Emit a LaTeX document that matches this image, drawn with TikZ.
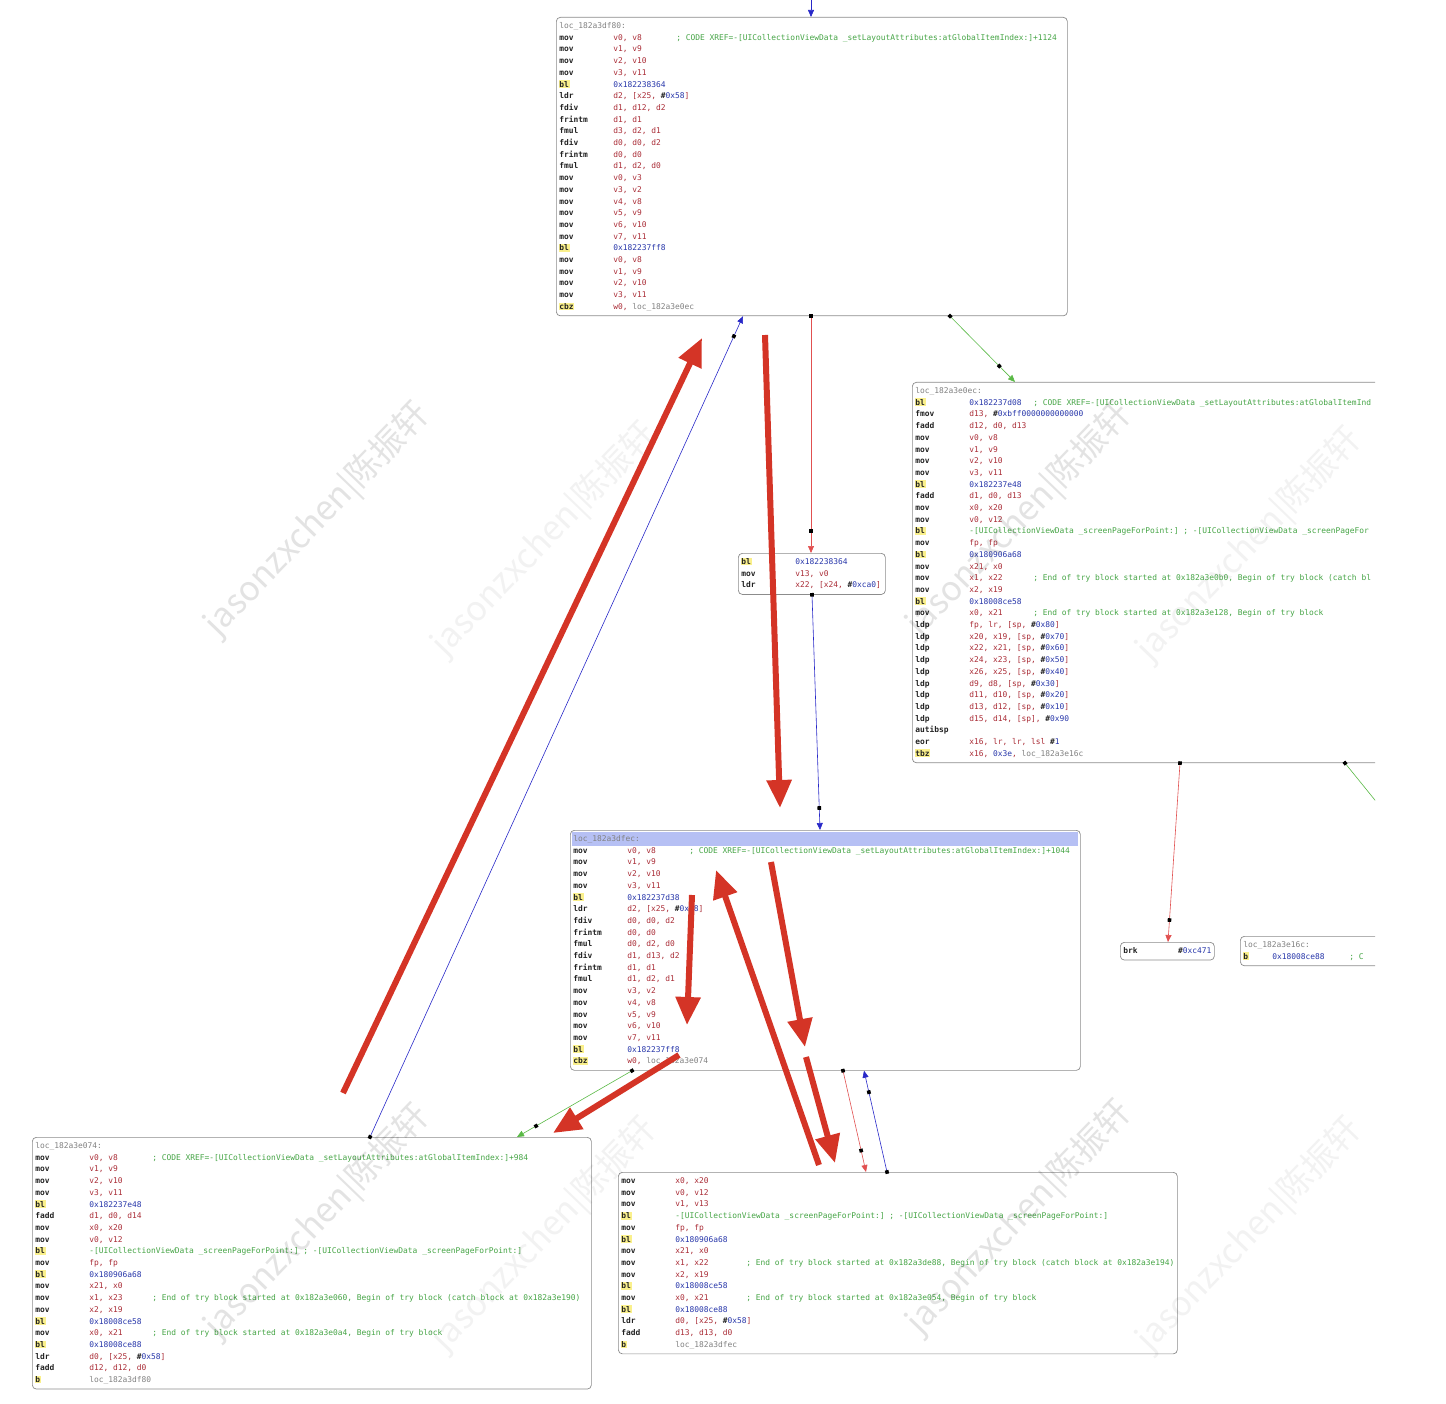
\documentclass[tikz,border=0pt]{standalone}
\usepackage{fontspec}
\newfontfamily\asmfont{DejaVu Sans Mono}
\newfontfamily\cjkfont{Noto Sans CJK SC}
\usetikzlibrary{arrows.meta,decorations.markings}

\definecolor{regred}{RGB}{170,45,55}
\definecolor{hexblue}{RGB}{40,55,170}
\definecolor{cmtgreen}{RGB}{70,165,70}
\definecolor{locgray}{RGB}{130,130,130}
\definecolor{opblack}{RGB}{35,35,35}
\definecolor{hlyellow}{RGB}{250,240,140}
\definecolor{selblue}{RGB}{182,192,244}
\definecolor{boxgray}{RGB}{140,140,140}
\definecolor{flowblue}{RGB}{40,40,200}
\definecolor{flowred}{RGB}{225,80,80}
\definecolor{flowgreen}{RGB}{90,185,70}
\definecolor{markred}{RGB}{212,52,38}

\newcommand\codefont{\asmfont\fontsize{7.9}{11.7}\selectfont}
\newcommand\monosp{\spaceskip=0.602em\relax\xspaceskip=0.602em\relax}
\newcommand\mn[1]{\strut\makebox[54pt][l]{\textcolor{opblack}{\bfseries #1}}}
\newcommand\hlbox[1]{\hspace*{-0.8pt}{\setlength\fboxsep{0.8pt}\colorbox{hlyellow}{\textcolor{opblack}{\bfseries #1}}}}
\newcommand\mh[1]{\strut\makebox[54pt][l]{\hlbox{#1}}}
\newcommand\rg[1]{\textcolor{regred}{#1}}
\newcommand\hx[1]{\textcolor{hexblue}{#1}}
\newcommand\imm[1]{\textcolor{opblack}{\bfseries\#}\hx{#1}}
\newcommand\lc[1]{\textcolor{locgray}{#1}}
\newcommand\cm[1]{\mbox{\textcolor{cmtgreen}{#1}}}
\newcommand\ops[2]{\makebox[#1][l]{#2}}
\newcommand\mv[2]{\mn{mov}\rg{#1, #2}}
\newcommand\lbl[1]{\strut\lc{#1}}
\newcommand\selbar[1]{\strut\smash{\rlap{\hspace*{-1pt}\textcolor{selblue}{\rule[-4.6pt]{506pt}{14pt}}}}\lc{#1}}

\begin{document}
\begin{tikzpicture}[x=1pt,y=-1pt,
  block/.style={draw=boxgray, line width=0.7pt, rounded corners=4pt, fill=white,
    anchor=north west, inner xsep=3pt, inner ysep=3pt, align=flush left, font=\codefont,
    execute at begin node=\monosp},
  flow/.style={line width=0.6pt, -{Triangle[length=7pt,width=6pt]},
    postaction={decorate, decoration={markings,
      mark=at position 0 with {\fill[black] (-1.8pt,-1.8pt) rectangle (1.8pt,1.8pt);},
      mark=at position -22pt with {\fill[black] (-1.8pt,-1.8pt) rectangle (1.8pt,1.8pt);}}}},
  markup/.style={line width=6pt, draw=markred, -{Triangle[length=28pt,width=24pt]}},
  wmark/.style={font=\cjkfont\fontsize{34}{34}\selectfont, text=black, opacity=0.11, rotate=46},
  wmlight/.style={wmark, opacity=0.05}]

\useasboundingbox (0,0) rectangle (1446,1404);
\begin{scope}
\clip (0,0) rectangle (1375,1404);

\node[block, text width=505pt] (df80) at (556,17) {%
\lbl{loc\_182a3df80:}\\
\mn{mov}\ops{63pt}{\rg{v0, v8}}\cm{; CODE XREF=-[UICollectionViewData \_setLayoutAttributes:atGlobalItemIndex:]+1124}\\
\mv{v1}{v9}\\
\mv{v2}{v10}\\
\mv{v3}{v11}\\
\mh{bl}\hx{0x182238364}\\
\mn{ldr}\rg{d2, [x25, }\imm{0x58}\rg{]}\\
\mn{fdiv}\rg{d1, d12, d2}\\
\mn{frintm}\rg{d1, d1}\\
\mn{fmul}\rg{d3, d2, d1}\\
\mn{fdiv}\rg{d0, d0, d2}\\
\mn{frintm}\rg{d0, d0}\\
\mn{fmul}\rg{d1, d2, d0}\\
\mv{v0}{v3}\\
\mv{v3}{v2}\\
\mv{v4}{v8}\\
\mv{v5}{v9}\\
\mv{v6}{v10}\\
\mv{v7}{v11}\\
\mh{bl}\hx{0x182237ff8}\\
\mv{v0}{v8}\\
\mv{v1}{v9}\\
\mv{v2}{v10}\\
\mv{v3}{v11}\\
\mh{cbz}\rg{w0, }\lc{loc\_182a3e0ec}};

\node[block, text width=514pt] (e0ec) at (912,382) {%
\lbl{loc\_182a3e0ec:}\\
\mh{bl}\ops{64pt}{\hx{0x182237d08}}\cm{; CODE XREF=-[UICollectionViewData \_setLayoutAttributes:atGlobalItemInd}\\
\mn{fmov}\rg{d13, }\imm{0xbff0000000000000}\\
\mn{fadd}\rg{d12, d0, d13}\\
\mv{v0}{v8}\\
\mv{v1}{v9}\\
\mv{v2}{v10}\\
\mv{v3}{v11}\\
\mh{bl}\hx{0x182237e48}\\
\mn{fadd}\rg{d1, d0, d13}\\
\mv{x0}{x20}\\
\mv{v0}{v12}\\
\mh{bl}\cm{-[UICollectionViewData \_screenPageForPoint:] ; -[UICollectionViewData \_screenPageFor}\\
\mv{fp}{fp}\\
\mh{bl}\hx{0x180906a68}\\
\mv{x21}{x0}\\
\mn{mov}\ops{64pt}{\rg{x1, x22}}\cm{; End of try block started at 0x182a3e0b0, Begin of try block (catch bl}\\
\mv{x2}{x19}\\
\mh{bl}\hx{0x18008ce58}\\
\mn{mov}\ops{64pt}{\rg{x0, x21}}\cm{; End of try block started at 0x182a3e128, Begin of try block}\\
\mn{ldp}\rg{fp, lr, [sp, }\imm{0x80}\rg{]}\\
\mn{ldp}\rg{x20, x19, [sp, }\imm{0x70}\rg{]}\\
\mn{ldp}\rg{x22, x21, [sp, }\imm{0x60}\rg{]}\\
\mn{ldp}\rg{x24, x23, [sp, }\imm{0x50}\rg{]}\\
\mn{ldp}\rg{x26, x25, [sp, }\imm{0x40}\rg{]}\\
\mn{ldp}\rg{d9, d8, [sp, }\imm{0x30}\rg{]}\\
\mn{ldp}\rg{d11, d10, [sp, }\imm{0x20}\rg{]}\\
\mn{ldp}\rg{d13, d12, [sp, }\imm{0x10}\rg{]}\\
\mn{ldp}\rg{d15, d14, [sp], }\imm{0x90}\\
\mn{autibsp}\\
\mn{eor}\rg{x16, lr, lr, lsl }\imm{1}\\
\mh{tbz}\rg{x16, }\hx{0x3e}\rg{, }\lc{loc\_182a3e16c}};

\node[block, text width=141pt] (b364) at (738,553) {%
\mh{bl}\hx{0x182238364}\\
\mv{v13}{v0}\\
\mn{ldr}\rg{x22, [x24, }\imm{0xca0}\rg{]}};

\node[block, text width=504pt] (dfec) at (570,830) {%
\selbar{loc\_182a3dfec:}\\
\mn{mov}\ops{62pt}{\rg{v0, v8}}\cm{; CODE XREF=-[UICollectionViewData \_setLayoutAttributes:atGlobalItemIndex:]+1044}\\
\mv{v1}{v9}\\
\mv{v2}{v10}\\
\mv{v3}{v11}\\
\mh{bl}\hx{0x182237d38}\\
\mn{ldr}\rg{d2, [x25, }\imm{0x58}\rg{]}\\
\mn{fdiv}\rg{d0, d0, d2}\\
\mn{frintm}\rg{d0, d0}\\
\mn{fmul}\rg{d0, d2, d0}\\
\mn{fdiv}\rg{d1, d13, d2}\\
\mn{frintm}\rg{d1, d1}\\
\mn{fmul}\rg{d1, d2, d1}\\
\mv{v3}{v2}\\
\mv{v4}{v8}\\
\mv{v5}{v9}\\
\mv{v6}{v10}\\
\mv{v7}{v11}\\
\mh{bl}\hx{0x182237ff8}\\
\mh{cbz}\rg{w0, }\lc{loc\_182a3e074}};

\node[block, text width=88pt] (brk) at (1120,942) {%
\strut\textcolor{opblack}{\bfseries brk}\hfill\imm{0xc471}};

\node[block, text width=294pt] (e16c) at (1240,936) {%
\lbl{loc\_182a3e16c:}\\
\strut\makebox[29pt][l]{\hlbox{b}}\ops{77pt}{\hx{0x18008ce88}}\cm{; C}};

\node[block, text width=553pt] (e074) at (32,1137) {%
\lbl{loc\_182a3e074:}\\
\mn{mov}\ops{63pt}{\rg{v0, v8}}\cm{; CODE XREF=-[UICollectionViewData \_setLayoutAttributes:atGlobalItemIndex:]+984}\\
\mv{v1}{v9}\\
\mv{v2}{v10}\\
\mv{v3}{v11}\\
\mh{bl}\hx{0x182237e48}\\
\mn{fadd}\rg{d1, d0, d14}\\
\mv{x0}{x20}\\
\mv{v0}{v12}\\
\mh{bl}\cm{-[UICollectionViewData \_screenPageForPoint:] ; -[UICollectionViewData \_screenPageForPoint:]}\\
\mv{fp}{fp}\\
\mh{bl}\hx{0x180906a68}\\
\mv{x21}{x0}\\
\mn{mov}\ops{63pt}{\rg{x1, x23}}\cm{; End of try block started at 0x182a3e060, Begin of try block (catch block at 0x182a3e190)}\\
\mv{x2}{x19}\\
\mh{bl}\hx{0x18008ce58}\\
\mn{mov}\ops{63pt}{\rg{x0, x21}}\cm{; End of try block started at 0x182a3e0a4, Begin of try block}\\
\mh{bl}\hx{0x18008ce88}\\
\mn{ldr}\rg{d0, [x25, }\imm{0x58}\rg{]}\\
\mn{fadd}\rg{d12, d12, d0}\\
\mh{b}\lc{loc\_182a3df80}};

\node[block, text width=553pt] (tail) at (618,1172) {%
\mv{x0}{x20}\\
\mv{v0}{v12}\\
\mv{v1}{v13}\\
\mh{bl}\cm{-[UICollectionViewData \_screenPageForPoint:] ; -[UICollectionViewData \_screenPageForPoint:]}\\
\mv{fp}{fp}\\
\mh{bl}\hx{0x180906a68}\\
\mv{x21}{x0}\\
\mn{mov}\ops{71pt}{\rg{x1, x22}}\cm{; End of try block started at 0x182a3de88, Begin of try block (catch block at 0x182a3e194)}\\
\mv{x2}{x19}\\
\mh{bl}\hx{0x18008ce58}\\
\mn{mov}\ops{71pt}{\rg{x0, x21}}\cm{; End of try block started at 0x182a3e054, Begin of try block}\\
\mh{bl}\hx{0x18008ce88}\\
\mn{ldr}\rg{d0, [x25, }\imm{0x58}\rg{]}\\
\mn{fadd}\rg{d13, d13, d0}\\
\mh{b}\lc{loc\_182a3dfec}};

% flow edges
\coordinate (entry) at (811,0);
\draw[flowblue, line width=0.6pt, -{Triangle[length=7pt,width=6pt]}] (entry) -- ([xshift=255pt]df80.north west);
\draw[flow, flowred] ([xshift=255pt]df80.south west) -- ([xshift=73pt]b364.north west);
\draw[flow, flowgreen] ([xshift=394pt]df80.south west) -- ([xshift=103pt]e0ec.north west);
\draw[flow, flowblue] ([xshift=74pt]b364.south west) -- ([xshift=250pt]dfec.north west);
\draw[flow, flowred] ([xshift=268pt]e0ec.south west) -- ([xshift=48pt]brk.north west);
\draw[flow, flowgreen] ([xshift=433pt]e0ec.south west) -- ([xshift=245pt]e16c.north west);
\draw[flow, flowgreen] ([xshift=62pt]dfec.south west) -- ([xshift=485pt]e074.north west);
\draw[flow, flowred] ([xshift=273pt]dfec.south west) -- ([xshift=248pt]tail.north west);
\draw[flow, flowblue] ([xshift=269pt]tail.north west) -- ([xshift=294pt]dfec.south west);
\draw[flow, flowblue] ([xshift=338pt]e074.north west) -- ([xshift=187pt]df80.south west);

% watermark
\node[wmark] (wm1) at (318,520) {jasonzxchen|陈振轩};
\node[wmark] (wm2) at (1020,520) {jasonzxchen|陈振轩};
\node[wmark] (wm3) at (318,1222) {jasonzxchen|陈振轩};
\node[wmark] (wm4) at (1020,1218) {jasonzxchen|陈振轩};
\node[wmlight] (wm5) at (545,540) {jasonzxchen|陈振轩};
\node[wmlight] (wm6) at (1250,545) {jasonzxchen|陈振轩};
\node[wmlight] (wm7) at (545,1235) {jasonzxchen|陈振轩};
\node[wmlight] (wm8) at (1250,1235) {jasonzxchen|陈振轩};

% hand-drawn red arrows
\coordinate (m1a) at (343,1093); \coordinate (m1b) at (702,338);
\coordinate (m2a) at (765,335);  \coordinate (m2b) at (780,808);
\coordinate (m3a) at (692,895);  \coordinate (m3b) at (687,1025);
\coordinate (m4a) at (819,1165); \coordinate (m4b) at (716,870);
\coordinate (m5a) at (771,862);  \coordinate (m5b) at (805,1047);
\coordinate (m6a) at (806,1057); \coordinate (m6b) at (835,1163);
\coordinate (m7a) at (679,1055); \coordinate (m7b) at (553,1133);
\draw[markup] (m1a) -- (m1b);
\draw[markup] (m2a) -- (m2b);
\draw[markup] (m3a) -- (m3b);
\draw[markup] (m4a) -- (m4b);
\draw[markup] (m5a) -- (m5b);
\draw[markup] (m6a) -- (m6b);
\draw[markup] (m7a) -- (m7b);
\end{scope}
\end{tikzpicture}
\end{document}
